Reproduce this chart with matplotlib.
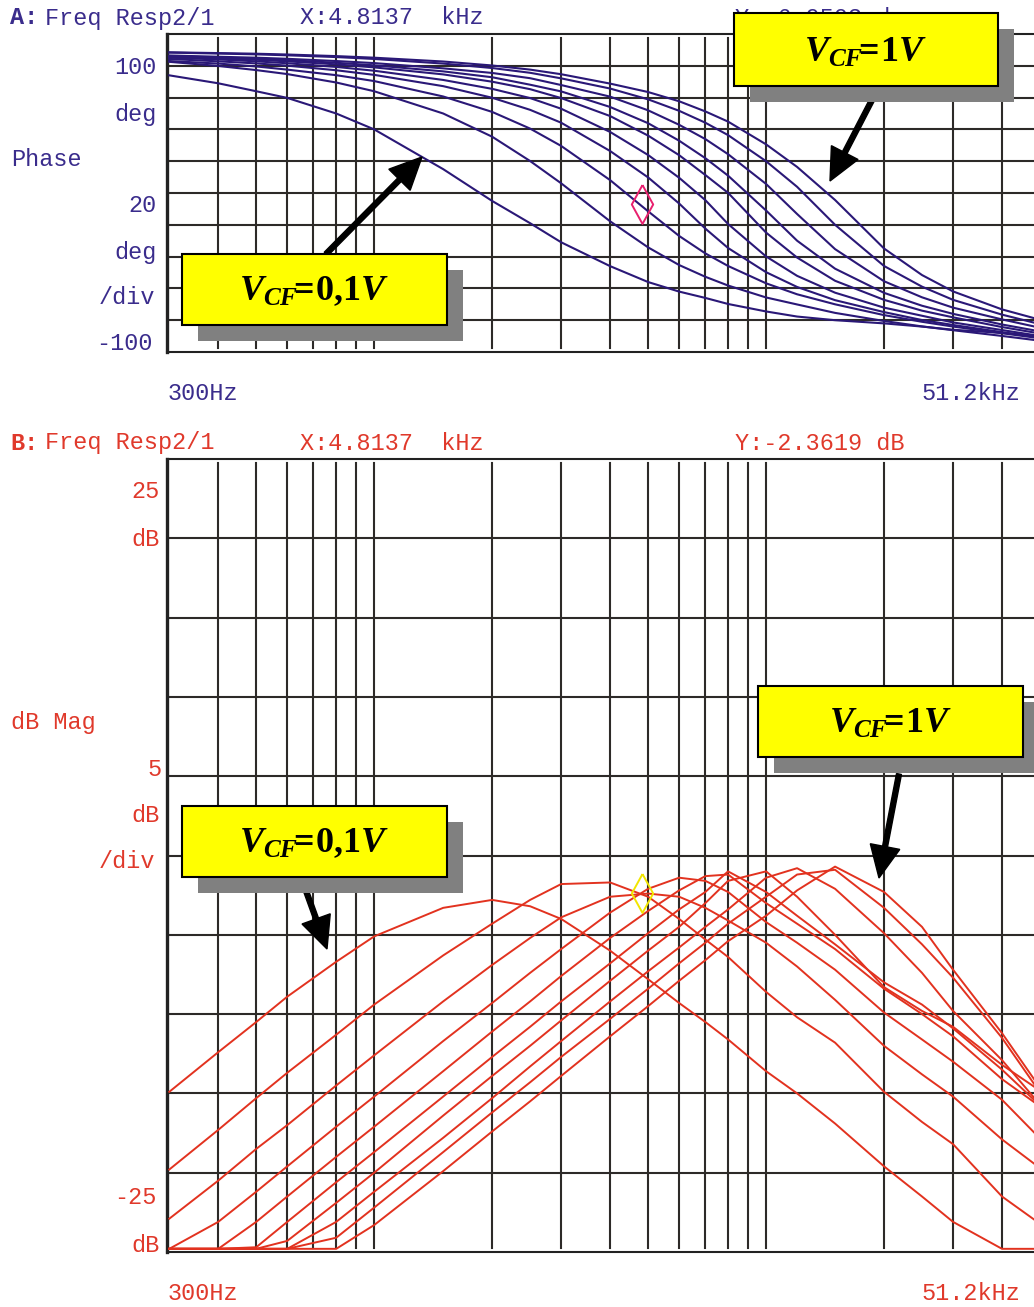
import numpy as np
import matplotlib.pyplot as plt
from matplotlib.patches import Rectangle, FancyArrow

plt.rcParams['mathtext.fontset'] = 'custom'
plt.rcParams['mathtext.rm'] = 'Liberation Serif:bold'
plt.rcParams['mathtext.it'] = 'Liberation Serif:italic:bold'
plt.rcParams['mathtext.bf'] = 'Liberation Serif:bold'

# frequencies (Hz) at which the traces were sampled
freq = [300, 400, 500, 600, 800, 1000, 1500, 2000, 2500, 3000, 4000, 5000, 6000,
        7000, 8000, 10000, 12000, 15000, 20000, 25000, 30000, 40000, 51200]

# phase (deg), VCF stepped from 0.1 V (ph1) up to 1 V (ph10)
ph1 = [74.0, 69.0, 64.0, 59.8, 50.0, 40.0, 15.0, -5.0, -19.0, -31.0, -46.0, -56.0, -62.0,
       -66.0, -69.8, -74.5, -77.7, -80.0, -82.0, -84.0, -86.0, -88.0, -90.0]
ph2 = [82.5, 79.9, 77.3, 74.8, 69.5, 64.0, 50.0, 35.4, 20.1, 6.1, -17.8, -34.2, -45.3,
       -52.7, -58.2, -65.7, -70.1, -75.4, -80.5, -83.9, -86.3, -89.9, -93.2]
ph3 = [83.0, 81.4, 79.6, 77.6, 74.1, 70.4, 60.7, 51.0, 40.5, 29.6, 8.1, -11.5, -27.0,
       -38.0, -45.9, -56.8, -63.7, -70.0, -76.8, -81.0, -84.0, -88.2, -91.7]
ph4 = [84.3, 82.8, 81.5, 80.1, 77.2, 74.3, 67.2, 59.9, 52.3, 44.2, 26.4, 9.8, -6.6,
       -22.4, -34.6, -49.8, -59.1, -67.4, -74.9, -79.9, -83.0, -87.5, -91.2]
ph5 = [85.1, 84.0, 82.8, 81.6, 79.3, 76.9, 71.1, 65.5, 59.7, 53.0, 38.4, 23.9, 9.6,
       -4.5, -19.5, -39.9, -52.1, -62.7, -72.1, -77.2, -81.4, -86.2, -90.3]
ph6 = [85.7, 84.7, 83.8, 82.8, 80.9, 79.0, 74.6, 70.0, 65.3, 59.7, 48.4, 36.1, 23.8,
       11.3, 0.1, -24.9, -40.6, -55.2, -67.2, -74.0, -78.2, -84.3, -88.8]
ph7 = [86.1, 85.2, 84.4, 83.6, 81.9, 80.3, 76.5, 72.8, 68.1, 63.9, 54.1, 43.9, 32.9,
       21.9, 10.9, -11.0, -30.0, -47.6, -62.8, -70.9, -76.0, -82.7, -87.5]
ph8 = [86.5, 85.7, 85.1, 84.4, 83.0, 81.7, 78.4, 75.5, 72.2, 67.9, 60.6, 52.0, 42.9,
       33.9, 24.4, 5.7, -13.2, -35.3, -55.5, -65.6, -72.1, -79.5, -85.3]
ph9 = [88.3, 87.7, 87.2, 86.6, 85.5, 84.3, 81.4, 78.6, 75.6, 72.1, 65.7, 58.9, 51.7,
       44.2, 36.4, 20.0, 3.9, -20.0, -45.9, -58.9, -67.2, -76.5, -83.1]
ph10 = [88.5, 88.0, 87.6, 87.1, 86.1, 85.1, 82.7, 80.2, 77.6, 74.7, 68.8, 63.5, 57.7,
        51.3, 44.9, 30.6, 16.4, -4.4, -34.9, -51.6, -61.9, -73.2, -80.4]

# magnitude (dB), same VCF steps
mag1 = [-14.9, -12.4, -10.5, -8.9, -6.7, -5.1, -3.3, -2.8, -3.2, -4.0, -6.0, -7.8, -9.3,
        -10.5, -11.6, -13.6, -15.0, -16.9, -19.6, -21.5, -23.1, -24.8, -24.8]
mag2 = [-19.8, -17.3, -15.3, -13.7, -11.3, -9.4, -6.3, -4.3, -2.8, -1.8, -1.7, -2.6, -4.0,
        -5.3, -6.4, -8.6, -10.2, -11.8, -14.9, -16.8, -18.2, -21.5, -23.4]
mag3 = [-22.9, -20.5, -18.5, -17.0, -14.5, -12.6, -9.2, -6.9, -5.2, -3.9, -2.6, -2.4, -2.6,
        -3.3, -4.1, -5.5, -7.0, -9.1, -12.0, -13.8, -15.2, -17.9, -19.9]
mag4 = [-24.8, -23.1, -21.2, -19.6, -17.1, -15.2, -11.7, -9.3, -7.4, -5.9, -3.6, -2.1, -1.4,
        -1.6, -2.3, -4.2, -5.5, -7.2, -9.9, -11.6, -13.0, -15.4, -18.1]
mag5 = [-24.8, -24.8, -23.1, -21.5, -19.0, -17.1, -13.6, -11.1, -9.2, -7.6, -5.2, -3.5, -2.2,
        -1.3, -1.2, -3.0, -4.3, -5.9, -8.4, -10.0, -11.4, -14.1, -16.0]
mag6 = [-24.8, -24.8, -24.7, -23.1, -20.6, -18.7, -15.2, -12.7, -10.8, -9.2, -6.8, -4.9, -3.4,
        -2.3, -1.0, -2.3, -3.8, -5.6, -8.0, -9.4, -10.9, -13.5, -16.0]
mag7 = [-24.8, -24.8, -24.8, -24.3, -21.9, -20.0, -16.4, -13.9, -12.0, -10.4, -7.9, -6.0, -4.5,
        -3.0, -1.6, -1.0, -2.6, -5.0, -8.3, -9.8, -10.8, -13.2, -15.0]
mag8 = [-24.8, -24.8, -24.8, -24.8, -23.1, -21.2, -17.8, -15.3, -13.3, -11.7, -9.2, -7.3, -5.8,
        -4.5, -3.4, -1.4, -0.8, -2.1, -4.9, -7.4, -9.8, -12.9, -16.0]
mag9 = [-24.8, -24.8, -24.8, -24.8, -24.1, -22.2, -18.7, -16.2, -14.3, -12.7, -10.3, -8.4, -6.8,
        -5.5, -4.3, -2.6, -1.2, -0.9, -3.3, -5.6, -7.7, -11.5, -15.3]
mag10 = [-24.8, -24.8, -24.8, -24.8, -24.8, -23.3, -19.9, -17.4, -15.5, -13.9, -11.4, -9.5, -7.9,
         -6.6, -5.4, -3.8, -2.2, -0.7, -2.3, -4.5, -7.2, -11.2, -15.0]

phase_traces = [ph1, ph2, ph3, ph4, ph5, ph6, ph7, ph8, ph9, ph10]
mag_traces = [mag1, mag2, mag3, mag4, mag5, mag6, mag7, mag8, mag9, mag10]

# cursor readout
cursor_freq = 4813.7
cursor_phase = -6.9503
cursor_mag = -2.3619

grid_freqs = [400, 500, 600, 700, 800, 900, 1000, 2000, 3000, 4000, 5000, 6000,
              7000, 8000, 9000, 10000, 20000, 30000, 40000]

W, H = 1034, 1307
blue = '#2a1877'
blue_txt = '#3a2c8c'
red = '#e2321f'
red_txt = '#e0392b'
grid_col = '#2d2a28'
mono = 'Liberation Mono'

fig = plt.figure(figsize=(W / 100, H / 100), dpi=100)


def px_axes(left, top, right, bottom):
    return fig.add_axes([left / W, 1 - bottom / H, (right - left) / W, (bottom - top) / H])


def setup(ax, ylo, yhi, ystep, gap):
    ax.set_xscale('log')
    ax.set_xlim(296, 51200)
    ax.set_ylim(ylo, yhi)
    ax.tick_params(which='both', length=0, labelbottom=False, labelleft=False)
    for f in grid_freqs:
        ax.axvline(f, ymin=gap, ymax=1 - gap, color=grid_col, lw=1.5, zorder=1)
    for v in np.arange(ylo + ystep, yhi, ystep):
        ax.axhline(v, color=grid_col, lw=1.5, zorder=1)
    ax.spines['left'].set_linewidth(2.4)
    ax.spines['top'].set_linewidth(1.5)
    ax.spines['bottom'].set_linewidth(1.5)
    for s in ax.spines.values():
        s.set_color('#222222')


diamond = [(0, 1), (0.55, 0), (0, -1), (-0.55, 0), (0, 1)]

ax_ph = px_axes(167, 34, 1044, 352)
setup(ax_ph, -100, 100, 20, 0.012)
for tr in phase_traces:
    ax_ph.plot(freq, tr, color=blue, lw=1.5, zorder=3)
ax_ph.plot(cursor_freq, cursor_phase, marker=diamond, ms=28, mfc='none',
           mec='#e8206e', mew=1.4, zorder=4)

ax_mag = px_axes(167, 459, 1044, 1252)
setup(ax_mag, -25, 25, 5, 0.005)
for tr in mag_traces:
    ax_mag.plot(freq, tr, color=red, lw=1.4, zorder=3)
ax_mag.plot(cursor_freq, cursor_mag, marker=diamond, ms=28, mfc='none',
            mec='#f2e600', mew=1.4, zorder=4)

# overlay in pixel coordinates for labels, callouts and arrows
ov = fig.add_axes([0, 0, 1, 1])
ov.set_xlim(0, W)
ov.set_ylim(H, 0)
ov.axis('off')
ov.patch.set_visible(False)


def label(x, y, s, color, ha='left', bold=False):
    ov.text(x, y, s, ha=ha, va='center', family=mono, fontsize=16.9, color=color,
            fontweight='bold' if bold else 'normal', zorder=2)


# phase panel text
label(10, 18, 'A:', blue_txt, bold=True)
label(45, 18, 'Freq Resp2/1', blue_txt)
label(300, 18, 'X:%.4f  kHz' % (cursor_freq / 1000), blue_txt)
label(735, 18, 'Y:%.4f deg' % cursor_phase, blue_txt)
label(157, 67, '100', blue_txt, ha='right')
label(157, 115, 'deg', blue_txt, ha='right')
label(11, 160, 'Phase', blue_txt)
label(157, 205, '20', blue_txt, ha='right')
label(157, 253, 'deg', blue_txt, ha='right')
label(155, 297, '/div', blue_txt, ha='right')
label(153, 343, '-100', blue_txt, ha='right')
label(168, 393, '300Hz', blue_txt)
label(1020, 393, '51.2kHz', blue_txt, ha='right')

# magnitude panel text
label(10, 443, 'B:', red_txt, bold=True)
label(45, 443, 'Freq Resp2/1', red_txt)
label(300, 443, 'X:%.4f  kHz' % (cursor_freq / 1000), red_txt)
label(735, 443, 'Y:%.4f dB' % cursor_mag, red_txt)
label(160, 492, '25', red_txt, ha='right')
label(160, 540, 'dB', red_txt, ha='right')
label(11, 723, 'dB Mag', red_txt)
label(162, 769, '5', red_txt, ha='right')
label(160, 816, 'dB', red_txt, ha='right')
label(155, 861, '/div', red_txt, ha='right')
label(157, 1198, '-25', red_txt, ha='right')
label(160, 1245, 'dB', red_txt, ha='right')
label(168, 1293, '300Hz', red_txt)
label(1020, 1293, '51.2kHz', red_txt, ha='right')


def callout(x0, y0, x1, y1, text):
    ov.add_patch(Rectangle((x0 + 16, y0 + 16), x1 - x0, y1 - y0,
                           facecolor='#808080', edgecolor='none', zorder=5))
    ov.add_patch(Rectangle((x0, y0), x1 - x0, y1 - y0, facecolor='#ffff00',
                           edgecolor='black', lw=1.5, zorder=6))
    ov.text((x0 + x1) / 2, (y0 + y1) / 2 + 2, text, ha='center', va='center',
            fontsize=26, color='black', zorder=7)


def arrow(x0, y0, x1, y1):
    ov.add_patch(FancyArrow(x0, y0, x1 - x0, y1 - y0, width=5, head_width=30,
                            head_length=32, length_includes_head=True,
                            color='black', zorder=4))


hi = r'$V_{CF}\!\!=\!1V$'
lo = r'$V_{CF}\!\!=\!0{,}1V$'

arrow(872, 100, 830, 181)
arrow(326, 254, 422, 157)
arrow(899, 774, 879, 878)
arrow(301, 877, 327, 949)

callout(734, 13, 998, 86, hi)
callout(182, 254, 447, 325, lo)
callout(758, 686, 1023, 757, hi)
callout(182, 806, 447, 877, lo)

fig.savefig('out.png', dpi=100)
